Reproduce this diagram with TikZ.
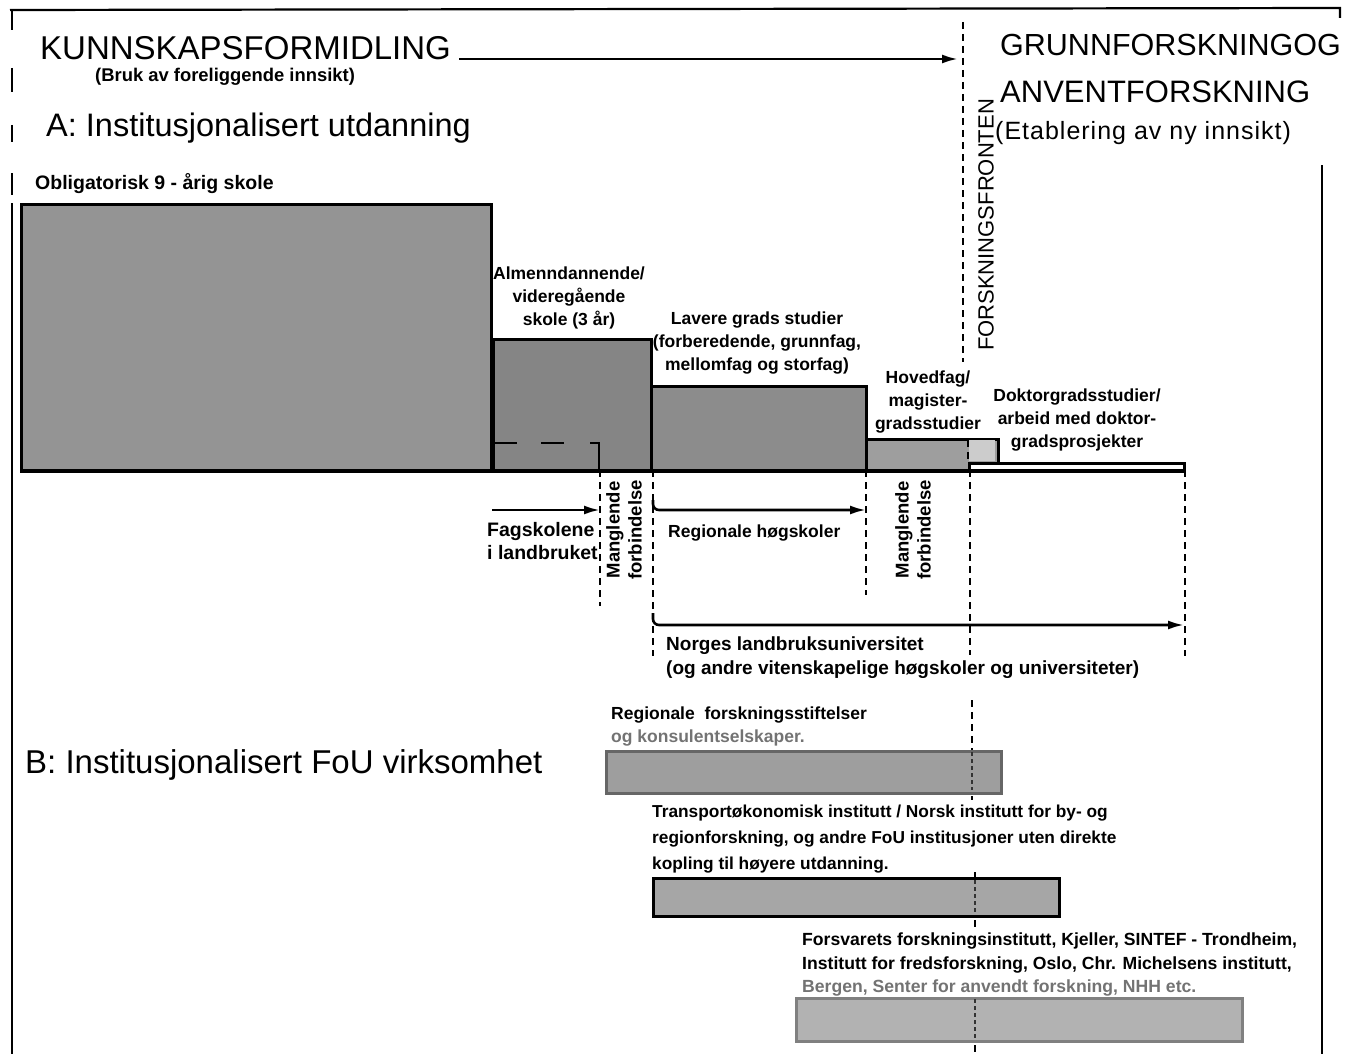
\documentclass[tikz,border=0pt]{standalone}
\usepackage{fontspec}
\setmainfont{Liberation Sans}
\usetikzlibrary{arrows.meta}
\begin{document}
\begin{tikzpicture}[x=1pt,y=-1pt,
  lbl/.style={font=\bfseries\fontsize{17.5}{23}\selectfont, inner sep=0pt},
  big/.style={font=\fontsize{33}{38}\selectfont, inner sep=0pt, anchor=west},
  frame/.style={line width=2.2pt},
  dline/.style={line width=2.8pt, dash pattern=on 7pt off 5pt},
  arr/.style={line width=2.6pt, -{Latex[length=16pt,width=9pt]}},
  stepbox/.style={draw, line width=3pt, anchor=north west, inner sep=0pt},
  fobox/.style={draw=black!60, line width=3pt, anchor=north west, inner sep=0pt, fill=black!38},
]
\useasboundingbox (0,0) rectangle (1359,1054);

% ---------- frame ----------
\draw[frame] (10,10) -- (1340,8) -- (1340,18);
\draw[frame] (12,10) -- (12,30);
\draw[frame] (12,68) -- (12,92);
\draw[frame] (12,125) -- (12,142);
\draw[frame] (12,173) -- (12,195);
\draw[frame] (12,203) -- (12,1054);
\draw[frame] (1322,165) -- (1322,1054);

% ---------- headings ----------
\node[big] (kf) at (40,48) {KUNNSKAPSFORMIDLING};
\node[lbl, anchor=west, font=\bfseries\fontsize{18.4}{22}\selectfont] (bruk) at (95,77) {(Bruk av foreliggende innsikt)};
\node[big, font=\fontsize{32.5}{38}\selectfont] (a) at (46,128) {A: Institusjonalisert utdanning};
\node[lbl, anchor=west, font=\bfseries\fontsize{19.5}{23}\selectfont] (obl) at (35,184) {Obligatorisk 9 - årig skole};

\node[big, font=\fontsize{30.5}{36}\selectfont] (gf) at (1000,45) {GRUNNFORSKNINGOG};
\node[big, font=\fontsize{31}{36}\selectfont] (af) at (1000,92) {ANVENTFORSKNING};
\node[big, font=\fontsize{25}{30}\selectfont\addfontfeature{LetterSpace=4}] (et) at (995,133) {(Etablering av ny innsikt)};

\node[font=\fontsize{22}{26}\selectfont, rotate=90, inner sep=0pt] (ff) at (986,225) {FORSKNINGSFRONTEN};

\coordinate (kfend) at (958,59);
\draw[arr] (kf.east |- kfend) ++(8,0) coordinate (kfstart) -- (kfend);

% ---------- A: staircase of boxes ----------
\node[stepbox, fill=black!42, minimum width=470pt, minimum height=267pt] (b1) at (20,203) {};
\node[stepbox, fill=black!48, minimum width=158pt, minimum height=132pt] (b2) at (492,338) {};
\node[stepbox, fill=black!45, minimum width=215pt, minimum height=85pt] (b3) at (650,385) {};
\node[stepbox, fill=black!38, minimum width=132pt, minimum height=32pt] (b4) at (865,438) {};
\fill[black!20] (969,440) rectangle (995,461);
\node[stepbox, fill=white, minimum width=215pt, minimum height=8pt] (b5) at (968,462) {};
\draw[line width=3pt] (20,470) -- (1184,470);

% inner vocational line in box 2
\draw[line width=2pt] (493,443) -- (517,443);
\draw[line width=2pt] (541,443) -- (564,443);
\draw[line width=2pt] (590,443) -- (599,443) -- (599,470);

\node[lbl, align=center] (t2) at (569,298) {Almenndannende/\\videregående\\skole (3 år)};
\node[lbl, align=center] (t3) at (757,343) {Lavere grads studier\\(forberedende, grunnfag,\\mellomfag og storfag)};
\node[lbl, align=center] (t4) at (928,402) {Hovedfag/\\magister-\\gradsstudier};
\node[lbl, align=center] (t5) at (1077,420) {Doktorgradsstudier/\\arbeid med doktor-\\gradsprosjekter};

% ---------- forskningsfronten dashed line ----------
\draw[dline] (963,22) -- (963,362);
\draw[dline] (968,440) -- (968,462);
\draw[dline] (970,470) -- (970,655);
\draw[dline] (972,700) -- (972,800);
\draw[dline] (975,872) -- (975,928);
\draw[dline] (975,997) -- (975,1054);

% ---------- dashed verticals below ----------
\coordinate (d1a) at (600,470); \coordinate (d1b) at (600,606);
\coordinate (d2a) at (653,470); \coordinate (d2b) at (653,656);
\coordinate (d3a) at (866,470); \coordinate (d3b) at (866,595);
\coordinate (d4a) at (1185,470); \coordinate (d4b) at (1185,656);
\draw[dline] (d1a) -- (d1b);
\draw[dline] (d2a) -- (d2b);
\draw[dline] (d3a) -- (d3b);
\draw[dline] (d4a) -- (d4b);

% ---------- arrows ----------
\coordinate (fs1) at (492,510); \coordinate (fs2) at (600,510);
\draw[arr] (fs1) -- (fs2);
\coordinate (rh1) at (653,500); \coordinate (rh2) at (866,510);
\draw[arr, rounded corners=6pt] (rh1) |- (rh2);
\coordinate (nl1) at (653,613); \coordinate (nl2) at (1184,625);
\draw[arr, rounded corners=6pt] (nl1) |- (nl2);

\node[lbl, align=left, anchor=north west, font=\bfseries\fontsize{19.5}{23}\selectfont] (fag) at (487,522) {Fagskolene\\i landbruket};
\node[lbl, anchor=west] (reg) at (668,533) {Regionale høgskoler};
\node[lbl, align=center, rotate=90, font=\bfseries\fontsize{18.5}{22}\selectfont] (m1) at (624,530) {Manglende\\forbindelse};
\node[lbl, align=center, rotate=90, font=\bfseries\fontsize{18.5}{22}\selectfont] (m2) at (913,530) {Manglende\\forbindelse};
\node[lbl, align=left, anchor=north west, font=\bfseries\fontsize{19}{24}\selectfont] (nlu) at (666,637) {Norges landbruksuniversitet\\(og andre vitenskapelige høgskoler og universiteter)};

% ---------- B ----------
\node[big, font=\fontsize{33}{38}\selectfont] (b) at (25,765) {B: Institusjonalisert FoU virksomhet};

\node[lbl, align=left, anchor=north west] (r1t) at (611,707) {Regionale\ \ forskningsstiftelser\\\textcolor{black!55}{og konsulentselskaper.}};
\node[fobox, minimum width=395pt, minimum height=42pt] (r1) at (605,750) {};

\node[lbl, align=left, anchor=north west, font=\bfseries\fontsize{17.3}{26}\selectfont] (r2t) at (652,805) {Transportøkonomisk institutt / Norsk institutt for by- og\\regionforskning, og andre FoU institusjoner uten direkte\\kopling til høyere utdanning.};
\node[stepbox, fill=black!35, minimum width=406pt, minimum height=38pt] (r2) at (652,877) {};

\node[lbl, align=left, anchor=north west, font=\bfseries\fontsize{17.6}{23.5}\selectfont] (r3t) at (802,933) {Forsvarets forskningsinstitutt, Kjeller, SINTEF - Trondheim,\\Institutt for fredsforskning, Oslo, Chr. Michelsens institutt,\\\textcolor{black!55}{Bergen, Senter for anvendt forskning, NHH etc.}};
\node[fobox, fill=black!30, draw=black!50, minimum width=446pt, minimum height=43pt] (r3) at (795,997) {};

% front line over B boxes
\draw[line width=2pt, dash pattern=on 4pt off 3pt, black!80] (972,752) -- (972,790);
\draw[line width=2pt, dash pattern=on 4pt off 3pt, black!80] (975,880) -- (975,913);
\draw[line width=2pt, dash pattern=on 4pt off 3pt, black!80] (975,999) -- (975,1038);
\end{tikzpicture}
\end{document}
